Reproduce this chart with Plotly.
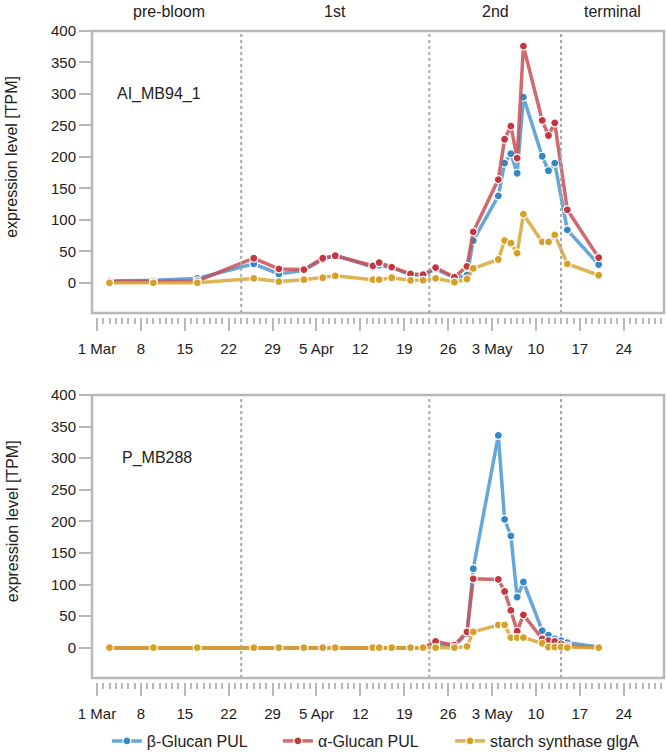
import pandas as pd
import plotly.graph_objects as go

# sampling dates (same for both panels, bottom has one extra sample)
dates_top = ['2020-03-03', '2020-03-10', '2020-03-17', '2020-03-26', '2020-03-30',
             '2020-04-03', '2020-04-06', '2020-04-08', '2020-04-14', '2020-04-15',
             '2020-04-17', '2020-04-20', '2020-04-22', '2020-04-24', '2020-04-27',
             '2020-04-29', '2020-04-30', '2020-05-04', '2020-05-05', '2020-05-06',
             '2020-05-07', '2020-05-08', '2020-05-11', '2020-05-12', '2020-05-13',
             '2020-05-15', '2020-05-20']
dates_bottom = dates_top[:25] + ['2020-05-14'] + dates_top[25:]

# AI_MB94_1
beta_top = [3, 4, 7, 30, 14, 20, 37, 44, 25, 28, 24, 13, 12, 22, 8, 12, 67,
            138, 190, 205, 174, 295, 201, 178, 190, 84, 29]
alpha_top = [2, 2, 3, 39, 22, 21, 39, 43, 27, 32, 25, 14, 13, 24, 9, 26, 81,
             164, 228, 249, 198, 376, 258, 234, 254, 116, 40]
glga_top = [0, 0, 0, 7, 2, 5, 8, 11, 5, 5, 8, 4, 4, 7, 1, 6, 23,
            37, 67, 63, 47, 109, 65, 65, 76, 30, 12]

# P_MB288
beta_bottom = [0, 0, 0, 0, 0, 0, 0, 0, 0, 0, 0, 0, 0, 5, 3, 22, 125,
               336, 203, 177, 80, 104, 27, 20, 14, 11, 8, 1]
alpha_bottom = [0, 0, 0, 0, 0, 0, 1, 1, 0, 0, 0, 0, 0, 10, 4, 25, 109,
                108, 89, 59, 26, 52, 14, 11, 10, 6, 3, 0]
glga_bottom = [0, 0, 0, 0, 0, 0, 0, 0, 0, 0, 0, 0, 0, 0, 0, 2, 25,
               36, 36, 16, 16, 16, 7, 1, 1, 1, 0, 0]

series_names = ['β-Glucan PUL', 'α-Glucan PUL', 'starch synthase glgA']
panel_names = ['AI_MB94_1', 'P_MB288']

phase_bounds = ['2020-03-24', '2020-04-23', '2020-05-14']
phase_names = ['pre-bloom', '1st', '2nd', 'terminal']

tick_dates = ['2020-03-01', '2020-03-08', '2020-03-15', '2020-03-22', '2020-03-29',
              '2020-04-05', '2020-04-12', '2020-04-19', '2020-04-26', '2020-05-03',
              '2020-05-10', '2020-05-17', '2020-05-24']
tick_labels = ['1 Mar', '8', '15', '22', '29', '5 Apr', '12', '19', '26',
               '3 May', '10', '17', '24']
y_ticks = [0, 50, 100, 150, 200, 250, 300, 350, 400]

x_range = ['2020-02-29 05:00', '2020-05-30 10:00']
y_range = [-48, 400]

marker_colors = ['rgb(52,134,200)', 'rgb(196,55,64)', 'rgb(214,160,40)']
line_colors = ['rgba(75,150,210,0.85)', 'rgba(200,80,85,0.85)', 'rgba(216,166,50,0.85)']
gray = '#b8b8b8'
text_color = '#222222'
font = 'Liberation Sans, Arial, sans-serif'

legend_ids = ['legend', 'legend2', 'legend3']
legend_x = [0.026, 0.325, 0.626]

fig = go.Figure()

panels = [
    (dates_top, [beta_top, alpha_top, glga_top], 'x', 'y', True),
    (dates_bottom, [beta_bottom, alpha_bottom, glga_bottom], 'x2', 'y2', False),
]
for dates, values, xa, ya, show in panels:
    for i, vals in enumerate(values):
        fig.add_trace(go.Scatter(
            x=dates, y=vals, name=series_names[i], mode='lines+markers',
            xaxis=xa, yaxis=ya, showlegend=show, legend=legend_ids[i],
            line=dict(color=line_colors[i], width=3.5),
            marker=dict(color=marker_colors[i], size=8,
                        line=dict(color='white', width=1.2)),
        ))

xaxis_style = dict(
    range=x_range, showgrid=False, zeroline=False, showline=False,
    tickmode='array', tickvals=tick_dates, ticktext=tick_labels,
    ticks='outside', ticklen=13, tickwidth=2, tickcolor=gray,
    ticklabelstandoff=5, automargin=False,
    tickfont=dict(family=font, size=15, color=text_color),
    minor=dict(ticks='outside', dtick=86400000, tick0='2020-03-01',
               ticklen=6, tickwidth=1.5, tickcolor=gray, showgrid=False),
    anchor='free',
)
yaxis_style = dict(
    range=y_range, showgrid=False, zeroline=False, showline=False, automargin=False,
    tickmode='array', tickvals=y_ticks,
    ticks='outside', ticklen=12, tickwidth=2, tickcolor=gray,
    tickfont=dict(family=font, size=15, color=text_color),
)

fig.update_layout(
    width=667, height=752,
    margin=dict(l=92, r=3, t=31, b=70, autoexpand=False),
    paper_bgcolor='white', plot_bgcolor='white',
    font=dict(family=font, color=text_color),
    xaxis=dict(xaxis_style, position=0.5607),
    yaxis=dict(yaxis_style, domain=[0.5668, 1], anchor='x'),
    xaxis2=dict(xaxis_style, position=0.0),
    yaxis2=dict(yaxis_style, domain=[0.0061, 0.4409], anchor='x2'),
)
for lid, lx in zip(legend_ids, legend_x):
    fig.update_layout({lid: dict(orientation='h', x=lx, xanchor='left',
                                 y=-0.0906, yanchor='middle', itemwidth=30,
                                 font=dict(family=font, size=16, color=text_color))})

# frames, phase boundaries, labels
start = pd.Timestamp('2020-03-01')
end = pd.Timestamp(x_range[1])
edges = [start] + [pd.Timestamp(b) for b in phase_bounds] + [end]
shapes = []
annotations = []
label_x = [0.040, 0.049]
for k, (xr, yr) in enumerate([('x', 'y'), ('x2', 'y2')]):
    shapes.append(dict(type='rect', xref=f'{xr} domain', yref=f'{yr} domain',
                       x0=0, x1=1, y0=0, y1=1, line=dict(color=gray, width=2.5)))
    for b in phase_bounds:
        shapes.append(dict(type='line', xref=xr, yref=f'{yr} domain',
                           x0=b, x1=b, y0=0, y1=1,
                           line=dict(color='#a8a8a8', width=2, dash='dot')))
    annotations.append(dict(text=panel_names[k], xref=f'{xr} domain', yref=yr,
                            x=label_x[k], y=300, xanchor='left', yanchor='middle',
                            showarrow=False,
                            font=dict(family=font, size=16, color=text_color)))
    # y title centred on the 0-400 span
    annotations.append(dict(text='expression level [TPM]', xref='paper', yref=yr,
                            x=-0.14, y=200, xanchor='center', yanchor='middle',
                            textangle=-90, showarrow=False,
                            font=dict(family=font, size=16, color=text_color)))

for i, name in enumerate(phase_names):
    mid = edges[i] + (edges[i + 1] - edges[i]) / 2
    annotations.append(dict(text=name, xref='x', yref='y domain',
                            x=mid.strftime('%Y-%m-%d %H:%M'), y=1,
                            xanchor='center', yanchor='bottom', yshift=9,
                            showarrow=False,
                            font=dict(family=font, size=16, color=text_color)))

fig.update_layout(shapes=shapes, annotations=annotations)

# drop the default page margin so the figure sits at the window corner
fig.write_html('out.html', config={'displayModeBar': False},
               post_script="document.body.style.margin='0';")
